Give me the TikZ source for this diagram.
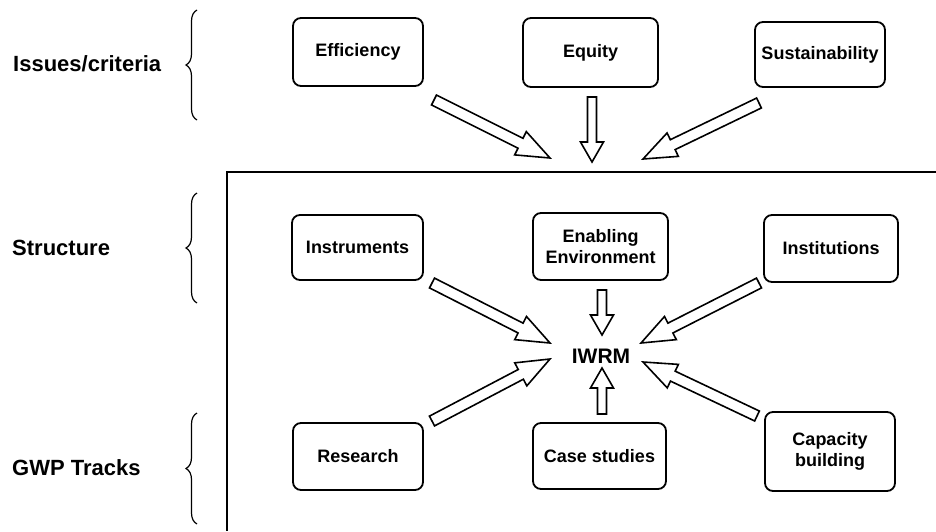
\documentclass[tikz,border=0pt]{standalone}
\usepackage{fontspec}
\setmainfont{Liberation Sans}
\usetikzlibrary{calc,decorations.pathreplacing}
% #1 head length, #2 head half width, #3 shaft half width, #4 tail, #5 tip
\newcommand\mkblockarrow[5]{%
  \coordinate (bb) at ($(#5)!#1!(#4)$);
  \draw[blk] ($(#4)!#3!-90:(#5)$) -- ($(bb)!#3!90:(#4)$) -- ($(bb)!#2!90:(#4)$) -- (#5)
    -- ($(bb)!#2!-90:(#4)$) -- ($(bb)!#3!-90:(#4)$) -- ($(#4)!#3!90:(#5)$) -- cycle;}
\newcommand\diagarrow[2]{\mkblockarrow{33pt}{13pt}{5.5pt}{#1}{#2}}
\newcommand\vertarrow[2]{\mkblockarrow{20pt}{11.5pt}{4.5pt}{#1}{#2}}
\begin{document}
\begin{tikzpicture}[x=1pt,y=-1pt,
  box/.style={draw, line width=1.8pt, rounded corners=8pt, align=center,
    font=\bfseries\fontsize{18}{21}\selectfont, inner sep=0pt},
  lab/.style={anchor=west, font=\bfseries\fontsize{22}{26}\selectfont, inner sep=0pt},
  brc/.style={decorate, decoration={brace, amplitude=11pt}, line width=1.2pt},
  blk/.style={draw, line width=1.6pt, fill=white, line join=miter}]
\useasboundingbox (0,0) rectangle (936,531);

% frame
\draw[line width=2.4pt] (936,172) -- (227,172) -- (227,531);

% left labels and braces
\node[lab] (l1) at (13,64) {Issues/criteria};
\node[lab] (l2) at (12,248) {Structure};
\node[lab] (l3) at (12,468) {GWP Tracks};
\draw[brc] (197,120) -- (197,10);
\draw[brc] (197,303) -- (197,193);
\draw[brc] (197,524) -- (197,413);

% boxes
\node[box, minimum width=130pt, minimum height=68pt] (eff) at (358,52) {Efficiency};
\node[box, minimum width=135pt, minimum height=69pt] (equ) at (590.5,52.5) {Equity};
\node[box, minimum width=130pt, minimum height=65pt] (sus) at (820,54.5) {Sustainability};
\node[box, minimum width=131pt, minimum height=65pt] (ins) at (357.5,247.5) {Instruments};
\node[box, minimum width=135pt, minimum height=67pt] (ena) at (600.5,246.5) {Enabling\\Environment};
\node[box, minimum width=134pt, minimum height=67pt] (inst) at (831,248.5) {Institutions};
\node[box, minimum width=130pt, minimum height=67pt] (res) at (358,456.5) {Research};
\node[box, minimum width=133pt, minimum height=66pt] (cas) at (599.5,456) {Case studies};
\node[box, minimum width=130pt, minimum height=79pt] (cap) at (830,451.5) {Capacity\\building};

\node[font=\bfseries\fontsize{21}{24}\selectfont, inner sep=0pt] (iwrm) at (601,356) {IWRM};

% arrow end points
\coordinate (effT) at (434,100);  \coordinate (effH) at (550,158);
\coordinate (equT) at (592,97);   \coordinate (equH) at (592,162);
\coordinate (susT) at (759,103);  \coordinate (susH) at (643,159);
\coordinate (insT) at (432,283);  \coordinate (insH) at (550,343);
\coordinate (enaT) at (602,290);  \coordinate (enaH) at (602,335);
\coordinate (instT) at (759,283); \coordinate (instH) at (641,343);
\coordinate (resT) at (432,421);  \coordinate (resH) at (550,359);
\coordinate (casT) at (602,414);  \coordinate (casH) at (602,368);
\coordinate (capT) at (757,416);  \coordinate (capH) at (643,362);

\diagarrow{effT}{effH}
\vertarrow{equT}{equH}
\diagarrow{susT}{susH}
\diagarrow{insT}{insH}
\vertarrow{enaT}{enaH}
\diagarrow{instT}{instH}
\diagarrow{resT}{resH}
\vertarrow{casT}{casH}
\diagarrow{capT}{capH}
\end{tikzpicture}
\end{document}
